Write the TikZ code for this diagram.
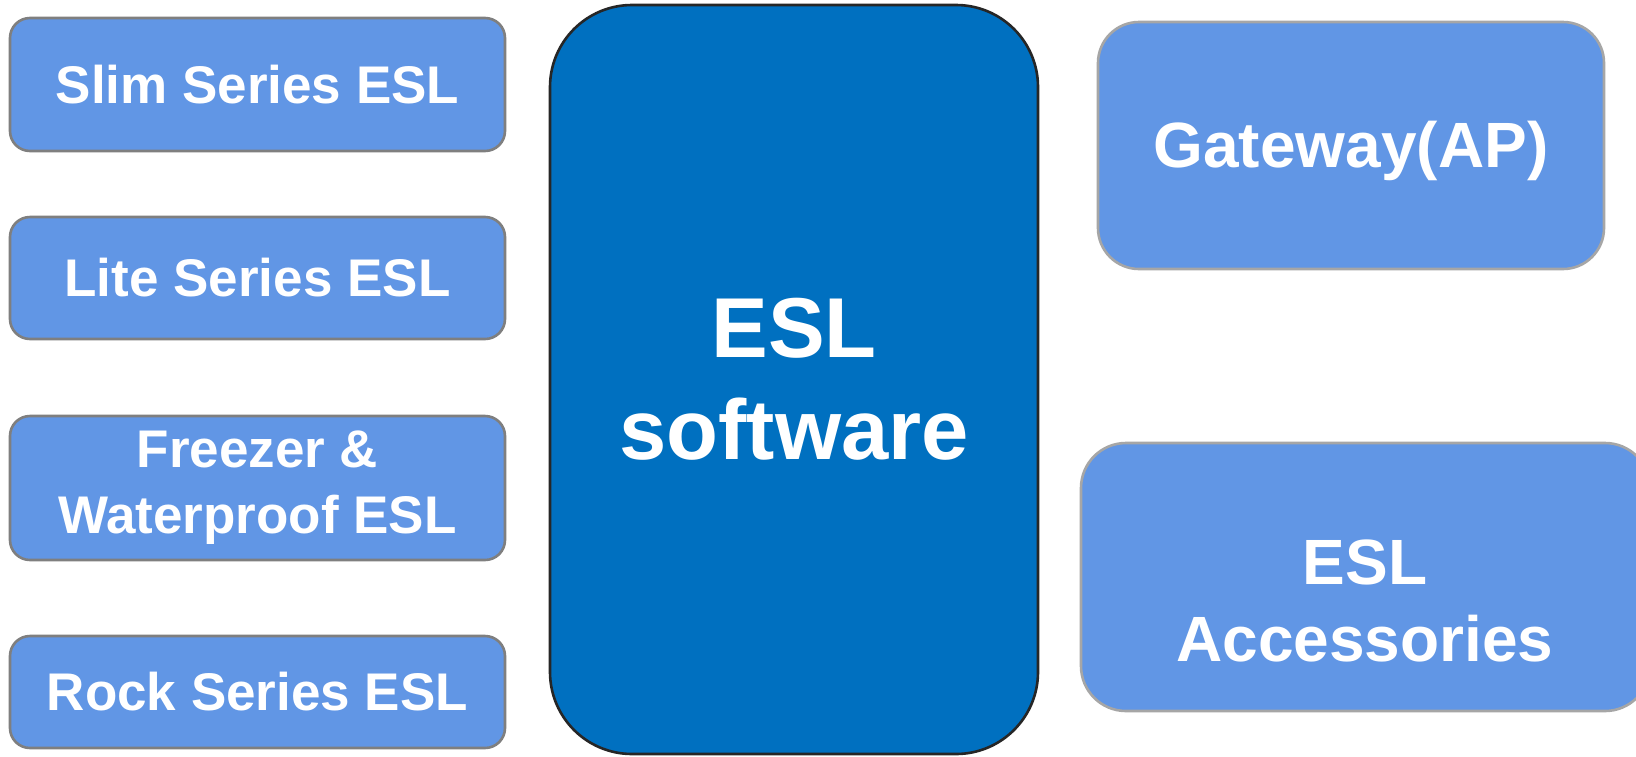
\documentclass[tikz,border=0pt]{standalone}
\usepackage{fontspec}
\setmainfont{Liberation Sans}
\definecolor{lightblue}{RGB}{97,150,229}
\definecolor{deepblue}{RGB}{0,112,192}
\definecolor{grayline}{RGB}{127,127,127}
\definecolor{lightgrayline}{RGB}{166,166,166}
\definecolor{darkline}{RGB}{38,38,38}
\tikzset{
  itembox/.style={draw=grayline, line width=2.6pt, fill=lightblue, rounded corners=20pt,
    minimum width=495pt, inner sep=0pt, text=white, align=center,
    font=\bfseries\fontsize{53}{66}\selectfont},
  rightbox/.style={draw=lightgrayline, line width=2.6pt, fill=lightblue, inner sep=0pt,
    text=white, align=center, font=\bfseries\fontsize{64}{77}\selectfont},
  corebox/.style={draw=darkline, line width=2.6pt, fill=deepblue, rounded corners=82pt,
    inner sep=0pt, text=white, align=center, font=\bfseries\fontsize{85}{102}\selectfont},
  labeltext/.style={text=white, align=center, inner sep=0pt, font=\bfseries\fontsize{64}{77}\selectfont}
}
\begin{document}
\begin{tikzpicture}[x=1pt,y=-1pt]
\useasboundingbox (0,0) rectangle (1636,756);
\clip (0,0) rectangle (1636,756);
\fill[white] (0,0) rectangle (1636,756);
% left column
\node[itembox, minimum height=133pt] (slim) at (257.5,84.5) {Slim Series ESL};
\node[itembox, minimum height=122pt] (lite) at (257.5,278) {Lite Series ESL};
\node[itembox, minimum height=144pt] (freezer) at (257.5,488) {Freezer \&\\Waterproof ESL};
\node[itembox, minimum height=112pt] (rock) at (257.5,692) {Rock Series ESL};
% center
\node[corebox, minimum width=488pt, minimum height=749pt] (core) at (794,379.5) {ESL\\software};
% right column
\node[rightbox, rounded corners=41pt, minimum width=506pt, minimum height=247pt] (gateway) at (1351,145.5) {};
\node[labeltext] (gatewaytext) at (1351,151) {Gateway(AP)};
\node[rightbox, rounded corners=45pt, minimum width=569pt, minimum height=268pt] (acc) at (1365.5,577) {};
\node[labeltext] (acctext) at (1365,601) {ESL\\Accessories};
\end{tikzpicture}
\end{document}
